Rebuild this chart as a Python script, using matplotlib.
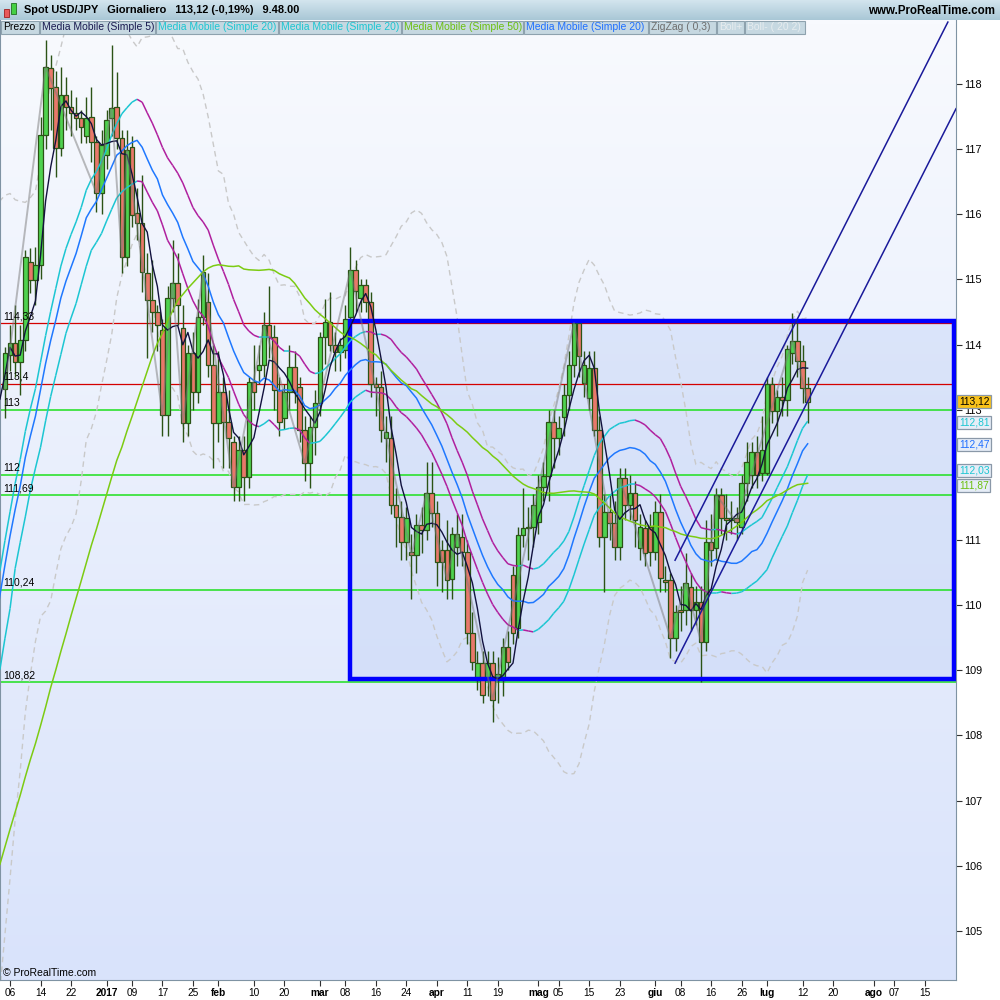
import numpy as np
import pandas as pd
import matplotlib
matplotlib.use("Agg")
import matplotlib.pyplot as plt
from matplotlib.patches import Rectangle
from matplotlib.collections import LineCollection
from matplotlib.colors import LinearSegmentedColormap
from matplotlib.transforms import blended_transform_factory

plt.rcParams['font.family'] = ['Liberation Sans', 'DejaVu Sans']

# closes before the first drawn bar (26 Sep - 2 Dec 2016), they only feed the averages
pre_close = [100.4, 100.5, 100.7, 101.0, 101.3, 101.7, 102.9, 103.5, 104.0, 102.9,
             103.6, 103.6, 104.2, 103.6, 104.2, 103.9, 103.9, 103.4, 103.9, 103.8,
             104.2, 104.3, 104.3, 105.2, 104.7, 104.8, 104.2, 103.2, 103.1, 103.1,
             104.5, 105.1, 105.7, 106.8, 106.6, 108.4, 109.1, 109.1, 110.2, 110.9,
             110.8, 111.0, 112.5, 113.3, 113.2, 112.0, 111.9, 114.4, 114.0, 113.5]
pre_high = [104.6, 105.5, 105.9, 106.9, 106.9, 108.5, 109.3, 109.4, 110.5, 111.0,
            111.2, 111.4, 112.7, 113.6, 113.9, 113.2, 112.5, 114.6, 114.8, 114.1]
pre_low = [103.2, 104.5, 101.2, 105.2, 106.1, 106.5, 107.9, 108.6, 108.9, 109.8,
           110.1, 110.5, 110.8, 112.5, 112.8, 111.4, 111.4, 111.9, 113.6, 113.3]

# daily bars 5 Dec 2016 - 13 Jul 2017
opens = [113.32, 113.84, 114.02, 113.73, 114.07, 115.27, 114.99, 115.22, 117.22, 118.25,
         117.95, 117.02, 117.83, 117.65, 117.55, 117.48, 117.20, 117.49, 117.11, 116.33,
         116.91, 117.48, 117.65, 117.17, 115.34, 117.03, 116.02, 115.87, 115.10, 114.68,
         114.50, 114.22, 112.92, 114.71, 114.95, 114.25, 112.80, 113.87, 113.27, 114.42,
         114.65, 113.69, 112.80, 113.27, 112.81, 112.50, 111.81, 112.38, 111.97, 113.43,
         113.61, 113.69, 114.30, 114.12, 113.30, 112.87, 113.27, 113.66, 113.35, 112.69,
         112.18, 112.74, 113.10, 114.12, 114.35, 113.99, 113.89, 113.92, 114.42, 115.14,
         114.71, 114.91, 114.65, 113.40, 113.35, 112.57, 112.57, 111.54, 111.35, 110.97,
         110.82, 110.77, 111.23, 111.15, 111.72, 111.42, 110.85, 110.85, 110.40, 110.90,
         111.05, 110.82, 109.57, 108.85, 109.11, 108.85, 109.11, 108.85, 108.85, 109.36,
         110.46, 109.65, 111.08, 111.18, 111.20, 111.28, 111.81, 111.98, 112.81, 112.57,
         112.89, 113.23, 113.69, 114.33, 113.41, 113.18, 113.64, 112.69, 111.05, 111.43,
         111.26, 110.90, 111.95, 111.54, 111.72, 110.88, 111.18, 111.20, 110.82, 111.43,
         110.39, 110.39, 109.50, 109.92, 109.93, 110.28, 109.93, 110.05, 109.44, 110.97,
         110.88, 111.69, 111.34, 111.31, 111.34, 111.20, 111.88, 112.00, 112.35, 112.03,
         112.03, 113.40, 112.98, 113.20, 113.15, 113.87, 114.06, 113.75, 113.33]
highs = [113.97, 114.30, 114.60, 114.30, 115.45, 115.48, 115.50, 117.50, 118.67, 118.45,
         118.20, 118.26, 118.10, 117.90, 117.80, 117.60, 117.80, 117.95, 117.20, 117.30,
         117.60, 118.60, 118.18, 117.30, 117.30, 117.20, 116.40, 116.60, 115.40, 115.30,
         114.60, 114.40, 114.90, 115.60, 115.40, 114.60, 114.00, 114.20, 114.70, 115.37,
         115.10, 114.00, 113.90, 113.50, 113.30, 112.60, 112.60, 112.60, 113.50, 114.00,
         114.00, 114.50, 114.90, 114.30, 113.50, 113.40, 114.00, 113.90, 113.50, 112.90,
         112.90, 113.30, 114.20, 114.70, 114.80, 114.20, 114.10, 114.60, 115.50, 115.30,
         115.00, 115.00, 114.80, 113.50, 113.60, 112.90, 112.90, 111.80, 111.60, 111.50,
         111.10, 111.40, 111.50, 112.20, 112.20, 111.60, 111.00, 111.30, 111.20, 111.40,
         111.40, 111.00, 109.90, 109.30, 109.30, 109.30, 109.30, 109.20, 109.50, 109.60,
         110.60, 111.20, 111.80, 111.50, 111.70, 112.00, 112.20, 113.00, 113.00, 112.90,
         113.40, 113.90, 114.37, 114.37, 113.90, 113.90, 113.90, 112.90, 111.70, 111.70,
         111.60, 112.10, 112.10, 112.00, 111.90, 111.40, 111.30, 111.40, 111.60, 111.70,
         110.60, 110.50, 110.00, 110.30, 110.80, 110.50, 110.30, 110.30, 111.30, 111.40,
         111.80, 111.80, 111.70, 111.60, 111.50, 112.00, 112.50, 112.50, 112.60, 112.90,
         113.50, 113.50, 113.30, 113.50, 114.00, 114.48, 114.40, 114.00, 113.50]
lows = [112.87, 113.60, 113.50, 113.23, 113.90, 114.79, 114.60, 115.00, 117.00, 117.30,
        116.57, 116.90, 117.30, 117.20, 117.30, 117.10, 117.10, 116.80, 116.04, 116.00,
        116.70, 117.20, 117.00, 115.10, 115.20, 115.80, 115.60, 114.80, 113.80, 114.20,
        113.90, 112.60, 112.60, 114.50, 114.30, 112.50, 112.60, 113.00, 113.10, 114.30,
        113.50, 112.10, 112.50, 112.10, 112.10, 111.60, 111.60, 111.60, 111.80, 113.00,
        113.40, 113.50, 113.80, 113.00, 112.60, 112.70, 113.00, 113.10, 112.50, 111.90,
        111.80, 112.30, 112.90, 113.70, 113.90, 113.60, 113.60, 113.80, 114.30, 114.50,
        114.50, 114.50, 113.20, 112.90, 112.50, 112.20, 111.40, 110.90, 110.70, 110.70,
        110.10, 110.50, 110.80, 111.00, 111.20, 110.30, 110.20, 110.10, 110.10, 110.60,
        110.60, 109.40, 109.00, 108.70, 108.50, 108.60, 108.20, 108.50, 108.60, 109.00,
        109.40, 109.50, 110.90, 110.70, 110.90, 111.10, 111.60, 111.60, 112.10, 112.30,
        112.60, 113.00, 113.50, 113.50, 113.20, 113.00, 112.60, 110.90, 110.20, 111.00,
        110.70, 110.70, 111.30, 111.30, 110.90, 110.70, 110.60, 110.60, 110.70, 110.20,
        110.20, 109.19, 109.30, 109.60, 109.70, 109.60, 109.70, 108.82, 109.30, 110.60,
        110.70, 111.10, 111.00, 111.10, 111.00, 111.10, 111.60, 111.80, 111.80, 111.90,
        112.00, 112.80, 112.60, 112.90, 112.90, 113.70, 113.50, 113.10, 112.80]
closes = [113.87, 114.02, 113.73, 114.07, 115.34, 114.99, 115.22, 117.22, 118.26, 117.94,
          117.02, 117.83, 117.65, 117.55, 117.48, 117.34, 117.48, 117.11, 116.33, 117.06,
          117.45, 117.63, 117.17, 115.34, 116.98, 115.99, 115.87, 115.11, 114.68, 114.50,
          114.30, 112.92, 114.71, 114.95, 114.60, 112.80, 113.87, 113.27, 114.42, 115.11,
          113.69, 112.80, 113.27, 112.81, 112.57, 111.81, 112.38, 111.97, 113.43, 113.27,
          113.69, 114.30, 114.12, 113.30, 112.81, 113.27, 113.66, 113.27, 112.69, 112.18,
          112.74, 113.10, 114.12, 114.35, 113.99, 113.89, 113.99, 114.40, 115.14, 114.82,
          114.91, 114.65, 113.40, 113.35, 112.69, 112.66, 111.54, 111.35, 110.97, 111.34,
          110.77, 111.23, 111.15, 111.72, 111.42, 110.66, 110.66, 110.39, 111.10, 111.10,
          110.82, 109.57, 109.13, 109.11, 108.62, 109.11, 108.55, 108.95, 109.36, 109.13,
          109.57, 111.08, 111.18, 111.20, 111.54, 111.81, 111.98, 112.81, 112.57, 112.72,
          113.23, 113.69, 114.33, 113.83, 113.69, 113.64, 112.69, 111.05, 111.43, 111.26,
          110.90, 111.95, 111.54, 111.72, 111.30, 111.20, 110.80, 110.82, 111.43, 110.41,
          110.35, 109.50, 109.90, 109.90, 110.34, 109.93, 110.05, 109.44, 110.97, 110.85,
          111.69, 111.34, 111.31, 111.34, 111.28, 111.88, 112.20, 112.35, 112.00, 112.38,
          113.40, 112.98, 113.20, 113.15, 113.93, 114.06, 113.75, 113.33, 113.12]

# zigzag (0,3) turning points: bar number, price
zz_bar = [0, 8, 18, 21, 23, 24, 31, 33, 35, 39, 45, 51, 59, 68, 80, 83, 87, 89, 96,
          112, 120, 121, 131, 134, 137, 140, 144, 155, 158]
zz_val = [113.32, 118.26, 116.33, 117.63, 115.34, 116.98, 112.92, 114.95, 112.80, 115.11,
          111.81, 114.30, 112.18, 115.14, 110.77, 111.72, 110.39, 111.10, 108.55,
          114.33, 110.90, 111.95, 109.50, 110.34, 109.44, 111.69, 111.28, 114.06, 113.12]

# horizontal levels drawn on the chart
red_levels = [114.33, 113.4]
red_labels = ['114,33', '113,4']
green_levels = [113.0, 112.0, 111.69, 110.24, 108.82]
green_labels = ['113', '112', '111,69', '110,24', '108,82']

# box (range) and channel drawn by hand
box_bars = [67.9, 186.8]
box_prices = [108.87, 114.36]
chan_upper = [(131.9, 110.69), (185.6, 118.95)]
chan_lower = [(131.9, 109.11), (187.2, 117.62)]

# last values shown on the price scale (labels nudged apart where they would collide)
last_labels = ['113,12', '112,81', '112,47', '112,03', '111,87']
last_label_y = [113.12, 112.81, 112.47, 112.07, 111.84]
last_colors = ['#000000', '#1cc6d2', '#1f6fff', '#1cc6d2', '#6cbf10']

# price scale ticks; 112 sits behind the 112,03 tag
price_ticks = list(range(105, 119))
price_tick_labels = ['' if p == 112 else str(p) for p in price_ticks]

tick_dates = ['2016-12-06', '2016-12-14', '2016-12-22', '2017-01-02', '2017-01-09', '2017-01-17',
              '2017-01-25', '2017-02-01', '2017-02-10', '2017-02-20', '2017-03-01', '2017-03-08',
              '2017-03-16', '2017-03-24', '2017-04-03', '2017-04-11', '2017-04-19', '2017-05-01',
              '2017-05-05', '2017-05-15', '2017-05-23', '2017-06-01', '2017-06-08', '2017-06-16',
              '2017-06-26', '2017-07-03', '2017-07-12', '2017-07-20', '2017-08-01', '2017-08-07',
              '2017-08-15']
tick_labels = ['06', '14', '22', '2017', '09', '17', '25', 'feb', '10', '20', 'mar', '08', '16',
               '24', 'apr', '11', '19', 'mag', '05', '15', '23', 'giu', '08', '16', '26', 'lug',
               '12', '20', 'ago', '07', '15']
bold_labels = {'2017', 'feb', 'mar', 'apr', 'mag', 'giu', 'lug', 'ago'}

legend_items = [('Prezzo', '#000000', 1, 39), ('Media Mobile (Simple 5)', '#1a1a50', 40, 155),
                ('Media Mobile (Simple 20)', '#1cc6d2', 156, 278),
                ('Media Mobile (Simple 20)', '#1cc6d2', 279, 401),
                ('Media Mobile (Simple 50)', '#6cbf10', 402, 523),
                ('Media Mobile (Simple 20)', '#1f6fff', 524, 648),
                ('ZigZag ( 0,3)', '#6e6e6e', 649, 716), ('Boll+', '#e6ecef', 717, 744),
                ('Boll- ( 20 2)', '#e6ecef', 745, 805)]


def main():
    n_pre = len(pre_close)
    n = len(closes)
    bars = np.arange(n)
    xfull = np.arange(-n_pre, n)
    close_s = pd.Series(pre_close + closes)
    pad = [np.nan] * (n_pre - len(pre_high))
    high_s = pd.Series(pad + pre_high + highs)
    low_s = pd.Series(pad + pre_low + lows)

    sma5 = close_s.rolling(5).mean()
    sma20 = close_s.rolling(20).mean()
    sma50 = close_s.rolling(50).mean()
    std20 = close_s.rolling(20).std(ddof=0)
    sma20_h = high_s.rolling(20).mean()
    sma20_l = low_s.rolling(20).mean()

    fig = plt.figure(figsize=(10, 10), dpi=100)
    fig.patch.set_facecolor('white')
    ax = fig.add_axes([0.0, 0.02, 0.956, 0.96])
    xlim = (-0.98, 187.2)
    ylim = (104.247, 118.982)

    bg = LinearSegmentedColormap.from_list('bg', ['#f8fafe', '#d9e3fb'])
    ax.imshow(np.linspace(0, 1, 256).reshape(-1, 1), cmap=bg, aspect='auto', origin='upper',
              extent=[xlim[0], xlim[1], ylim[0], ylim[1]], zorder=0)

    # range box
    ax.add_patch(Rectangle((box_bars[0], box_prices[0]), box_bars[1] - box_bars[0],
                           box_prices[1] - box_prices[0], fc='#c3d3f7', alpha=0.45, ec='none', zorder=1))
    ax.add_patch(Rectangle((box_bars[0], box_prices[0]), box_bars[1] - box_bars[0],
                           box_prices[1] - box_prices[0], fc='none', ec='#0000ff', lw=3.2, zorder=4))

    tr = blended_transform_factory(ax.transAxes, ax.transData)
    for lvl, lab in zip(red_levels, red_labels):
        ax.axhline(lvl, color='#d40000', lw=0.9, zorder=2)
        ax.text(0.003, lvl + 0.03, lab, transform=tr, fontsize=7.5, va='bottom', ha='left', zorder=6)
    for lvl, lab in zip(green_levels, green_labels):
        ax.axhline(lvl, color='#1ee01e', lw=1.1, zorder=2)
        ax.text(0.003, lvl + 0.03, lab, transform=tr, fontsize=7.5, va='bottom', ha='left', zorder=6)

    # bollinger
    ax.plot(xfull, sma20 + 2 * std20, color='#c9c9c9', lw=1, ls=(0, (4, 3)), zorder=2)
    ax.plot(xfull, sma20 - 2 * std20, color='#c9c9c9', lw=1, ls=(0, (4, 3)), zorder=2)

    # candles
    o = np.array(opens)
    c = np.array(closes)
    up = c >= o
    body_lo = np.minimum(o, c)
    body_h = np.maximum(np.abs(c - o), 0.02)
    ax.vlines(bars, lows, highs, color='#2b5316', lw=1, zorder=3)
    ax.bar(bars, body_h, bottom=body_lo, width=0.9,
           color=np.where(up, '#4fd24f', '#e8786a'), edgecolor='#2b5316', linewidth=0.9, zorder=3)

    # averages of highs and lows: cyan when rising, magenta when falling
    for ser in (sma20_h, sma20_l):
        v = ser.values
        segs, cols = [], []
        for i in range(len(v) - 1):
            if np.isnan(v[i]) or np.isnan(v[i + 1]):
                continue
            segs.append([(xfull[i], v[i]), (xfull[i + 1], v[i + 1])])
            cols.append('#1cc6d2' if v[i + 1] >= v[i] else '#b0209e')
        ax.add_collection(LineCollection(segs, colors=cols, linewidths=1.1, zorder=4))
    ax.plot(xfull, sma20, color='#1f78ff', lw=1.1, zorder=4)
    ax.plot(xfull, sma50, color='#7ccb12', lw=1.1, zorder=4)
    ax.plot(xfull, sma5, color='#12123e', lw=1.0, zorder=5)
    ax.plot(zz_bar, zz_val, color='#7a7a7a', lw=1.4, alpha=0.5, zorder=5)

    for line in (chan_upper, chan_lower):
        ax.plot([line[0][0], line[1][0]], [line[0][1], line[1][1]], color='#1a1a9a', lw=1.1, zorder=5)

    ax.set_xlim(xlim)
    ax.set_ylim(ylim)

    # price scale
    ax.yaxis.tick_right()
    ax.set_yticks(price_ticks)
    ax.set_yticklabels(price_tick_labels)
    ax.tick_params(axis='y', labelsize=7.8, length=4, width=0.8, color='#303030', pad=2)
    for yv, lab, col in zip(last_label_y, last_labels, last_colors):
        fc = '#f9c21a' if col == '#000000' else '#e6edf7'
        ax.text(1.003, yv, lab, transform=tr, fontsize=7.4, color=col, va='center', ha='left',
                clip_on=False, zorder=10,
                bbox=dict(boxstyle='square,pad=0.15', fc=fc, ec='#8a98a8', lw=0.9))

    # time scale
    dates = pd.bdate_range('2016-12-05', periods=200)
    pos = [dates.get_loc(pd.Timestamp(d)) for d in tick_dates]
    ax.set_xticks(pos)
    ax.set_xticklabels(tick_labels)
    for t in ax.get_xticklabels():
        if t.get_text() in bold_labels:
            t.set_fontweight('bold')
    ax.tick_params(axis='x', labelsize=7.3, length=4, width=0.8, color='#303030', pad=2)

    for s in ax.spines.values():
        s.set_color('#7f93a3')
    ax.spines['top'].set_visible(False)

    fig.text(0.003, 0.027, '\u00a9 ProRealTime.com', fontsize=7.5, ha='left', va='center')

    # header bar
    hax = fig.add_axes([0, 0.98, 1, 0.02])
    hdr = LinearSegmentedColormap.from_list('hdr', ['#d3e5ee', '#a9c7d6'])
    hax.imshow(np.linspace(0, 1, 64).reshape(-1, 1), cmap=hdr, aspect='auto', origin='upper',
               extent=[0, 1, 0, 1])
    hax.set_xlim(0, 1)
    hax.set_ylim(0, 1)
    hax.axis('off')
    hax.add_patch(Rectangle((0.004, 0.15), 0.005, 0.4, fc='#e85a5a', ec='#a02020', lw=0.6))
    hax.add_patch(Rectangle((0.011, 0.3), 0.005, 0.55, fc='#44d044', ec='#207020', lw=0.6))
    hax.text(0.024, 0.5, 'Spot USD/JPY   Giornaliero   113,12 (-0,19%)   9.48.00',
             fontsize=7.9, fontweight='bold', va='center', ha='left')
    hax.text(0.995, 0.45, 'www.ProRealTime.com', fontsize=8.3, fontweight='bold',
             va='center', ha='right')

    # indicator legend row
    for lab, col, x0, x1 in legend_items:
        fig.add_artist(Rectangle((x0 / 1000, 1 - 34 / 1000), (x1 - x0) / 1000, 13 / 1000,
                                 transform=fig.transFigure, fc='#c6d8e1', ec='#8ea2ae', lw=0.8))
        fig.text((x0 + 2) / 1000, 1 - 27.5 / 1000, lab, color=col, fontsize=7.5,
                 ha='left', va='center')

    fig.savefig('out.png', dpi=100)


if __name__ == "__main__":
    main()
